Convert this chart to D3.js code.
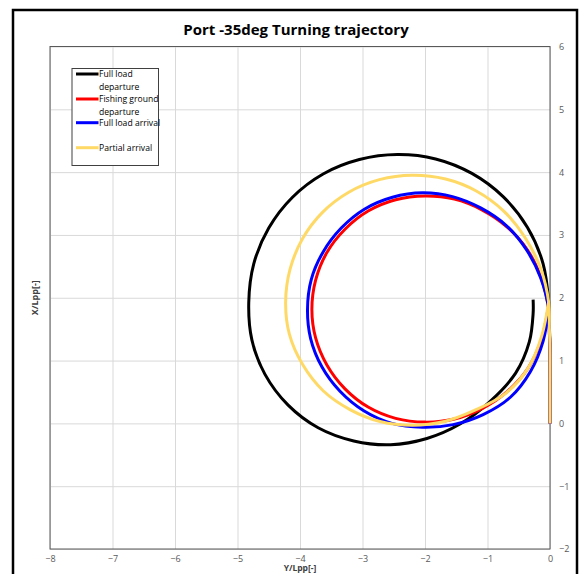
<!DOCTYPE html>
<html>
<head>
<meta charset="utf-8">
<script src="https://cdn.jsdelivr.net/npm/d3@7"></script>
<style>
  body { margin: 0; background: #fff; }
  svg { display: block; font-family: "Open Sans", "Noto Sans", sans-serif; }
</style>
</head>
<body>
<svg id="chart"></svg>
<script>
const title = "Port -35deg Turning trajectory";
const xTitle = "Y/Lpp[-]";
const yTitle = "X/Lpp[-]";
const xTicks = [-8, -7, -6, -5, -4, -3, -2, -1, 0];
const yTicks = [-2, -1, 0, 1, 2, 3, 4, 5, 6];

const seriesNames = ["Full load departure", "Fishing ground departure", "Full load arrival", "Partial arrival"];
const seriesColors = ["#000000", "#ff0000", "#0000ff", "#ffd966"];

// Full load departure
const fldY = [0, 0, 0, -0.01, -0.02, -0.11, -0.36, -0.75, -1.25, -1.83, -2.44, -3.05, -3.63, -4.12, -4.50, -4.74, -4.82, -4.77, -4.56, -4.19, -3.71, -3.14, -2.55, -1.97, -1.44, -0.97, -0.55, -0.33, -0.27, -0.27];
const fldX = [0, 0.6, 1.2, 1.55, 1.92, 2.54, 3.12, 3.61, 3.98, 4.21, 4.28, 4.20, 3.97, 3.60, 3.11, 2.54, 1.92, 1.33, 0.78, 0.29, -0.07, -0.28, -0.34, -0.24, -0.01, 0.34, 0.80, 1.30, 1.75, 1.97];

// Fishing ground departure
const fgdY = [0, 0, 0, -0.01, -0.02, -0.14, -0.36, -0.69, -1.09, -1.53, -2.0, -2.47, -2.91, -3.28, -3.57, -3.75, -3.81, -3.75, -3.57, -3.28, -2.91, -2.47, -2.0, -1.53, -1.08, -0.68, -0.35, -0.14, -0.03];
const fgdX = [0, 0.6, 1.2, 1.45, 1.81, 2.31, 2.76, 3.13, 3.40, 3.57, 3.62, 3.56, 3.38, 3.09, 2.72, 2.28, 1.81, 1.36, 0.93, 0.55, 0.26, 0.08, 0.02, 0.07, 0.24, 0.51, 0.88, 1.33, 1.83];

// Full load arrival
const flaY = [0, 0, 0, -0.01, -0.02, -0.15, -0.38, -0.70, -1.11, -1.56, -2.04, -2.52, -2.97, -3.34, -3.63, -3.82, -3.88, -3.83, -3.65, -3.36, -2.98, -2.53, -2.04, -1.55, -1.07, -0.63, -0.31, -0.11, -0.02];
const flaX = [0, 0.6, 1.2, 1.45, 1.81, 2.32, 2.77, 3.15, 3.43, 3.61, 3.67, 3.60, 3.41, 3.11, 2.73, 2.29, 1.81, 1.35, 0.90, 0.51, 0.20, 0.00, -0.06, -0.02, 0.14, 0.42, 0.83, 1.31, 1.83];

// Partial arrival
const paY = [0, 0, 0, -0.01, -0.02, -0.15, -0.40, -0.74, -1.18, -1.67, -2.2, -2.73, -3.22, -3.64, -3.96, -4.16, -4.23, -4.17, -3.96, -3.63, -3.20, -2.72, -2.2, -1.69, -1.20, -0.72, -0.35, -0.13, -0.02];
const paX = [0, 0.6, 1.2, 1.5, 1.92, 2.47, 2.96, 3.38, 3.70, 3.89, 3.95, 3.88, 3.68, 3.36, 2.94, 2.45, 1.93, 1.42, 0.94, 0.52, 0.22, 0.03, -0.03, 0.03, 0.21, 0.47, 0.88, 1.40, 1.95];

const seriesY = [fldY, fgdY, flaY, paY];
const seriesX = [fldX, fgdX, flaX, paX];

const width = 579;
const height = 574;
const plot = { left: 50, right: 550, top: 46.5, bottom: 549 };

const svg = d3.select("#chart")
  .attr("width", width)
  .attr("height", height);

svg.append("rect")
  .attr("width", width)
  .attr("height", height)
  .attr("fill", "#fff");

// cadre du graphique
svg.append("rect")
  .attr("x", 13)
  .attr("y", 10)
  .attr("width", 564)
  .attr("height", 580)
  .attr("fill", "none")
  .attr("stroke", "#000")
  .attr("stroke-width", 2.5);

const x = d3.scaleLinear().domain([-8, 0]).range([plot.left, plot.right]);
const y = d3.scaleLinear().domain([-2, 6]).range([plot.bottom, plot.top]);

// grille
svg.append("g")
  .attr("transform", `translate(0,${plot.bottom})`)
  .call(d3.axisBottom(x).tickValues(xTicks).tickSize(-(plot.bottom - plot.top)).tickFormat(""))
  .call(g => g.select(".domain").remove())
  .call(g => g.selectAll("line").attr("stroke", "#d9d9d9"));

svg.append("g")
  .attr("transform", `translate(${plot.left},0)`)
  .call(d3.axisLeft(y).tickValues(yTicks).tickSize(-(plot.right - plot.left)).tickFormat(""))
  .call(g => g.select(".domain").remove())
  .call(g => g.selectAll("line").attr("stroke", "#d9d9d9"));

svg.append("rect")
  .attr("x", plot.left)
  .attr("y", plot.top)
  .attr("width", plot.right - plot.left)
  .attr("height", plot.bottom - plot.top)
  .attr("fill", "none")
  .attr("stroke", "#595959")
  .attr("stroke-width", 1);

// labels des axes
svg.append("g")
  .attr("transform", `translate(0,${plot.bottom + 4})`)
  .call(d3.axisBottom(x).tickValues(xTicks).tickSize(0).tickFormat(d3.format("d")))
  .call(g => g.select(".domain").remove())
  .call(g => g.selectAll("text")
    .attr("font-family", "'Open Sans', sans-serif")
    .attr("font-size", 9)
    .attr("fill", "#595959"));

svg.append("g")
  .attr("transform", `translate(${plot.right + 6},0)`)
  .call(d3.axisRight(y).tickValues(yTicks).tickSize(0).tickFormat(d3.format("d")))
  .call(g => g.select(".domain").remove())
  .call(g => g.selectAll("text")
    .attr("font-family", "'Open Sans', sans-serif")
    .attr("font-size", 9)
    .attr("fill", "#595959"));

// titres
svg.append("text")
  .attr("x", 296)
  .attr("y", 35)
  .attr("text-anchor", "middle")
  .attr("font-family", "'Open Sans', sans-serif")
  .attr("font-weight", "700")
  .attr("font-size", 15)
  .attr("fill", "#000")
  .text(title);

svg.append("text")
  .attr("x", 300)
  .attr("y", 570.5)
  .attr("text-anchor", "middle")
  .attr("font-family", "'Open Sans', sans-serif")
  .attr("font-weight", "700")
  .attr("font-size", 8.5)
  .attr("fill", "#404040")
  .text(xTitle);

svg.append("text")
  .attr("transform", `translate(38,${(plot.top + plot.bottom) / 2}) rotate(-90)`)
  .attr("text-anchor", "middle")
  .attr("font-family", "'Open Sans', sans-serif")
  .attr("font-weight", "700")
  .attr("font-size", 9)
  .attr("fill", "#404040")
  .text(yTitle);

// courbes
const line = d3.line()
  .x(d => x(d[0]))
  .y(d => y(d[1]))
  .curve(d3.curveCatmullRom.alpha(0.5));

svg.append("clipPath").attr("id", "plotClip")
  .append("rect")
  .attr("x", plot.left)
  .attr("y", plot.top)
  .attr("width", plot.right - plot.left + 2)
  .attr("height", plot.bottom - plot.top);

const curves = svg.append("g").attr("clip-path", "url(#plotClip)");

seriesNames.forEach((name, i) => {
  const pts = seriesY[i].map((v, j) => [v, seriesX[i][j]]);
  curves.append("path")
    .datum(pts)
    .attr("d", line)
    .attr("fill", "none")
    .attr("stroke", seriesColors[i])
    .attr("stroke-width", 3)
    .attr("stroke-linejoin", "round");
});

// légende
const legend = svg.append("g");
legend.append("rect")
  .attr("x", 72)
  .attr("y", 68.5)
  .attr("width", 86.5)
  .attr("height", 97)
  .attr("fill", "#fff")
  .attr("stroke", "#404040")
  .attr("stroke-width", 1);

const legendLines = [
  ["Full load", "departure"],
  ["Fishing ground", "departure"],
  ["Full load arrival"],
  ["Partial arrival"]
];
const legendY = [74, 99, 122.7, 147.7];

legendLines.forEach((lines, i) => {
  legend.append("line")
    .attr("x1", 76)
    .attr("x2", 98.5)
    .attr("y1", legendY[i])
    .attr("y2", legendY[i])
    .attr("stroke", seriesColors[i])
    .attr("stroke-width", 3);
  lines.forEach((t, k) => {
    legend.append("text")
      .attr("x", 99)
      .attr("y", legendY[i] + 3.3 + k * 12.4)
      .attr("font-family", "'Open Sans', sans-serif")
      .attr("font-size", 8.6)
      .attr("fill", "#000")
      .text(t);
  });
});
</script>
</body>
</html>
